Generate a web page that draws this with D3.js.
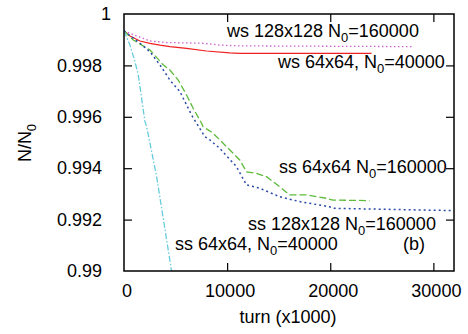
<!DOCTYPE html>
<html><head><meta charset="utf-8">
<script src="https://cdn.jsdelivr.net/npm/d3@7"></script>
<style>body{margin:0;background:#fff}svg{display:block}text{font-family:"Liberation Sans",Arial,Helvetica,sans-serif}</style>
</head><body>
<svg id="c" width="468" height="334"></svg>
<script>
const xTicks=[0,10000,20000,30000];
const yTicks=[0.99,0.992,0.994,0.996,0.998,1];
const wsLarge=[[0,0.99934],[1290,0.99914],[2516,0.99895],[4130,0.99889],[7710,0.99886],[9290,0.99879],[11226,0.99876],[28000,0.99873]];
const wsSmall=[[0,0.99934],[580,0.99914],[1548,0.99895],[2516,0.99886],[3484,0.99879],[4452,0.99873],[6068,0.99866],[8000,0.99856],[10258,0.99849],[11226,0.99847],[24000,0.99847]];
const ssSmallBig=[[0,0.99934],[900,0.99899],[2516,0.9986],[3803,0.99802],[4452,0.99782],[5255,0.99743],[6068,0.99685],[6707,0.99633],[7520,0.99575],[7674,0.99561],[8158,0.99549],[8642,0.99536],[9939,0.99484],[11226,0.99432],[11874,0.99386],[12842,0.9938],[13810,0.99367],[15097,0.99328],[16065,0.99296],[17681,0.99296],[19616,0.99283],[20255,0.99276],[23806,0.99274]];
const ssLarge=[[0,0.99934],[1548,0.99886],[2516,0.99853],[3484,0.99802],[4452,0.99743],[5420,0.99698],[6068,0.99646],[6552,0.99607],[7036,0.99575],[7839,0.99523],[8323,0.9951],[9290,0.99477],[10907,0.99406],[11874,0.99335],[13161,0.99322],[15097,0.99289],[17032,0.9927],[19935,0.9925],[20255,0.99244],[31870,0.99235]];
const ssSmall=[[0,0.99934],[580,0.99879],[1065,0.99814],[1385,0.99763],[2030,0.99581],[2200,0.99561],[3165,0.99367],[4650,0.9899]];

const L=124,R=454,T=14,B=271;
const svg=d3.select("#c");
const x=d3.scaleLinear().domain([0,32000]).range([L,R]);
const y=d3.scaleLinear().domain([0.99,1]).range([B,T]);

svg.append("defs").append("clipPath").attr("id","clip").append("rect").attr("x",L).attr("y",T).attr("width",R-L).attr("height",B-T);

const series=[
 {d:wsLarge,c:"#d060d0",dash:"1.5,2.5",w:1.3},
 {d:wsSmall,c:"#f02020",dash:null,w:1.2},
 {d:ssSmallBig,c:"#5cbb3a",dash:"7,3",w:1.3},
 {d:ssLarge,c:"#2a4aa8",dash:"2,3",w:1.5},
 {d:ssSmall,c:"#66ccdd",dash:"6,2,1.5,2",w:1.3}
];
const line=d3.line().x(d=>x(d[0])).y(d=>y(d[1]));
const g=svg.append("g").attr("clip-path","url(#clip)");
series.forEach(s=>{
  g.append("path").attr("d",line(s.d)).attr("fill","none").attr("stroke",s.c)
   .attr("stroke-width",s.w).attr("stroke-dasharray",s.dash);
});

const fs=18;
const yAx=svg.append("g").attr("transform",`translate(${L},0)`)
 .call(d3.axisLeft(y).tickValues(yTicks).tickSize(-8).tickPadding(22).tickFormat(d=>d===1?"1":d3.format(".3f")(d).replace(/0+$/,"")));
yAx.selectAll("text").attr("font-size",fs).attr("fill","#000").attr("font-family","Liberation Sans, Arial, sans-serif");
yAx.selectAll(".tick").filter(d=>d===1).select("text").attr("dx",9);
svg.append("g").attr("transform",`translate(${R},0)`).call(d3.axisRight(y).tickValues(yTicks).tickSize(-8).tickFormat(""));
const xAx=svg.append("g").attr("transform",`translate(0,${B})`)
 .call(d3.axisBottom(x).tickValues(xTicks).tickSize(-8).tickPadding(13).tickFormat(d3.format("d")));
xAx.selectAll("text").attr("font-size",fs).attr("fill","#000").attr("dx",2.5).attr("font-family","Liberation Sans, Arial, sans-serif");
svg.append("g").attr("transform",`translate(0,${T})`).call(d3.axisTop(x).tickValues(xTicks).tickSize(-8).tickFormat(""));
svg.selectAll(".domain").remove();
svg.selectAll(".tick line").attr("stroke","#000").attr("stroke-width",1.2);
svg.selectAll(".tick").filter(d=>d===0||d===0.99||d===1).select("line").attr("stroke-opacity",0);

svg.append("rect").attr("x",L).attr("y",T).attr("width",R-L).attr("height",B-T)
 .attr("fill","none").attr("stroke","#000").attr("stroke-width",1.5);

svg.append("text").attr("x",288).attr("y",323).attr("text-anchor","middle").attr("font-size",fs).text("turn (x1000)");
const yl=svg.append("text").attr("transform","translate(31,143) rotate(-90)").attr("text-anchor","middle").attr("font-size",fs);
yl.append("tspan").text("N/N");
yl.append("tspan").attr("font-size",13).attr("dy",5).text("0");

const labels=[
 {t:["ws 128x128 N","0","=160000"],x:227,y:36.7},
 {t:["ws 64x64, N","0","=40000"],x:278,y:68.3},
 {t:["ss 64x64 N","0","=160000"],x:279,y:173.3},
 {t:["ss 128x128 N","0","=160000"],x:248,y:230},
 {t:["ss 64x64, N","0","=40000"],x:175,y:250}
];
labels.forEach(l=>{
  const t=svg.append("text").attr("x",l.x).attr("y",l.y).attr("font-size",fs);
  t.append("tspan").text(l.t[0]);
  t.append("tspan").attr("font-size",13).attr("dy",5).text(l.t[1]);
  t.append("tspan").attr("dy",-5).text(l.t[2]);
});
svg.append("text").attr("x",403).attr("y",250).attr("font-size",fs).text("(b)");
</script>
</body></html>
